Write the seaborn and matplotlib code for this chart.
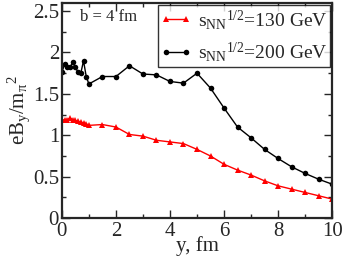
import numpy as np
import pandas as pd
import matplotlib
matplotlib.use('Agg')
import matplotlib.pyplot as plt
import seaborn as sns
from matplotlib.ticker import MultipleLocator

# DATA
y_rap = [0.0, 0.1, 0.2, 0.3, 0.4, 0.5, 0.6, 0.7, 0.8, 0.9, 1.0,
         1.5, 2.0, 2.5, 3.0, 3.5, 4.0, 4.5, 5.0, 5.5, 6.0,
         6.5, 7.0, 7.5, 8.0, 8.5, 9.0, 9.5, 10.0]

eb_130 = [1.18, 1.19, 1.19, 1.21, 1.19, 1.18, 1.17, 1.16, 1.15, 1.14, 1.12,
          1.13, 1.10, 1.01, 0.99, 0.94, 0.92, 0.90, 0.83, 0.75, 0.65,
          0.58, 0.52, 0.45, 0.39, 0.35, 0.31, 0.27, 0.23]

eb_200 = [1.76, 1.86, 1.83, 1.82, 1.88, 1.82, 1.76, 1.75, 1.90, 1.71, 1.62,
          1.71, 1.71, 1.84, 1.74, 1.73, 1.65, 1.63, 1.75, 1.57, 1.33,
          1.10, 0.97, 0.83, 0.72, 0.62, 0.54, 0.47, 0.41]

label_130 = r'$\mathregular{s_{NN}{}^{1/2}}$=130 GeV'
label_200 = r'$\mathregular{s_{NN}{}^{1/2}}$=200 GeV'

data = pd.DataFrame({'y': y_rap, 'e130': eb_130, 'e200': eb_200})

# STYLE
sns.set_style('ticks')
plt.rcParams['font.family'] = ['Liberation Serif', 'DejaVu Serif']
plt.rcParams['mathtext.fontset'] = 'custom'
plt.rcParams['mathtext.rm'] = 'Liberation Serif'
plt.rcParams['mathtext.it'] = 'Liberation Serif:italic'

fig = plt.figure(figsize=(3.42, 2.56), dpi=100)
ax = fig.add_axes([0.181, 0.148, 0.79, 0.841])

sns.lineplot(data=data, x='y', y='e130', ax=ax, color='red', marker='^',
             markersize=4.5, markeredgewidth=0, linewidth=1, label=label_130)
sns.lineplot(data=data, x='y', y='e200', ax=ax, color='black', marker='o',
             markersize=4, markeredgewidth=0, linewidth=1, label=label_200)

ax.set_xlim(0, 10)
ax.set_ylim(0, 2.6)
ax.xaxis.set_major_locator(MultipleLocator(2))
ax.xaxis.set_minor_locator(MultipleLocator(1))
ax.yaxis.set_minor_locator(MultipleLocator(0.25))
ax.set_yticks([0, 0.5, 1, 1.5, 2, 2.5])
ax.set_yticklabels(['0', '0.5', '1', '1.5', '2', '2.5'])

ax.tick_params(which='both', direction='in', top=True, right=True,
               labelsize=15)
ax.tick_params(axis='x', pad=3)
ax.tick_params(axis='y', pad=2)
ax.tick_params(which='major', length=6, width=1)
ax.tick_params(which='minor', length=3, width=1)
for sp in ax.spines.values():
    sp.set_linewidth(1.6)

ax.set_xlabel('y, fm', fontsize=15, labelpad=-4)
ax.set_ylabel(r'$\mathregular{eB_y/m_\pi{}^{2}}$', fontsize=15, labelpad=1)

ax.text(0.067, 0.935, 'b = 4 fm', transform=ax.transAxes,
        fontsize=12, va='center', ha='left')

leg = ax.legend(loc='upper right', numpoints=2, fontsize=14, frameon=True,
                fancybox=False, edgecolor='black', borderaxespad=0.1,
                handlelength=1.6, handletextpad=0.3, borderpad=0.15,
                labelspacing=0.45)
leg.get_frame().set_linewidth(1)

fig.savefig('out.png', dpi=100)
